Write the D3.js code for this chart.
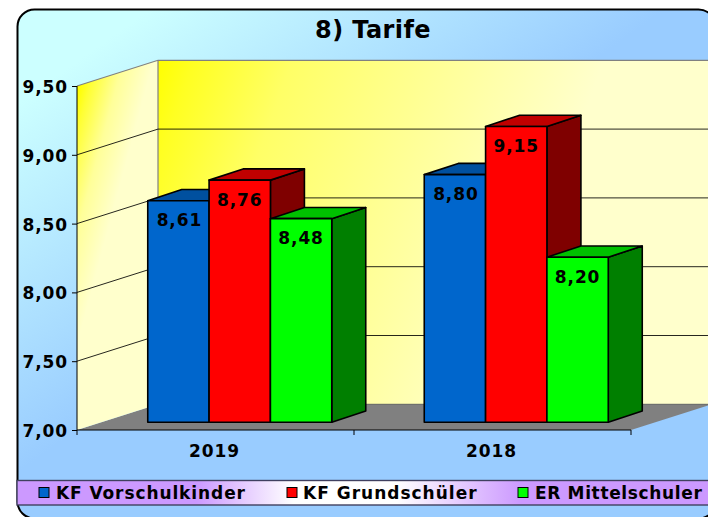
<!DOCTYPE html>
<html><head><meta charset="utf-8">
<script src="https://cdn.jsdelivr.net/npm/d3@7"></script>
<style>html,body{margin:0;padding:0;background:#fff}svg{display:block}text{font-family:"DejaVu Sans",Verdana,sans-serif;font-weight:700;fill:#000}</style>
</head><body><div id="c"></div>
<script>
const categories = ["2019", "2018"];
const seriesNames = ["KF Vorschulkinder", "KF Grundschüler", "ER Mittelschuler"];
const vorschulkinder = [8.61, 8.80];
const grundschueler = [8.76, 9.15];
const mittelschuler = [8.48, 8.20];
const tickValues = [7, 7.5, 8, 8.5, 9, 9.5];
const colors = [["#0066cc","#00509f","#0066cc"],["#ff0000","#c00000","#7f0000"],["#00ff00","#00c000","#007f00"]];

const W=708,H=517;
const svg=d3.select("#c").append("svg").attr("width",W).attr("height",H);
const defs=svg.append("defs");
function grad(id,x1,y1,x2,y2,stops){
  const g=defs.append("linearGradient").attr("id",id).attr("gradientUnits","userSpaceOnUse")
    .attr("x1",x1).attr("y1",y1).attr("x2",x2).attr("y2",y2);
  stops.forEach(s=>g.append("stop").attr("offset",s[0]).attr("stop-color",s[1]));
}
grad("bg",20,10,238,315,[[0,"#ccffff"],[0.2,"#ccffff"],[1,"#99ccff"]]);
grad("back",158,60,555,200,[[0,"#ffff00"],[0.08,"#ffff22"],[0.3,"#ffff66"],[0.65,"#ffff99"],[1,"#ffffcc"]]);
grad("side",77,95,140,112,[[0,"#ffff00"],[0.15,"#ffff33"],[0.55,"#ffff99"],[1,"#ffffcc"]]);
grad("leg",17,0,708,0,[[0,"#cc99ff"],[0.26,"#cc99ff"],[0.4,"#ffffff"],[0.55,"#ffffff"],[0.73,"#cc99ff"],[1,"#cc99ff"]]);

// frame
svg.append("rect").attr("x",17.5).attr("y",9.5).attr("width",698).attr("height",509).attr("rx",17)
  .attr("fill","url(#bg)").attr("stroke","#000").attr("stroke-width",2);

const y0=430,yTop=86;
const y=d3.scaleLinear().domain([7,9.5]).range([y0,yTop]);
const x=d3.scaleBand().domain(categories).range([77,631]);
const xBar=d3.scaleBand().domain(categories).range([77,630]);
const sub=d3.scaleBand().domain(d3.range(3)).range([0,184]);
const depthX=81,depthY=-25.7;
const floorOff=[24.5,-7.7];
const barD=[34,-11.2];
const line=d3.line();

// floor
svg.append("path").attr("d",line([[77,y0],[631,y0],[708,y0-24.5],[708,y0+depthY],[158,y0+depthY]])+"Z").attr("fill","#808080").attr("stroke","none");
// side and back walls
svg.append("path").attr("d",line([[77,y(9.5)],[77+depthX,y(9.5)+depthY],[77+depthX,y0+depthY],[77,y0]])+"Z").attr("fill","url(#side)");
svg.append("rect").attr("x",158).attr("y",y(9.5)+depthY).attr("width",W-158).attr("height",y0-y(9.5)).attr("fill","url(#back)");
svg.append("path").attr("d",line([[77,y(9.5)],[158,y(9.5)+depthY],[708,y(9.5)+depthY]])).attr("fill","none").attr("stroke","#808080").attr("stroke-width",1.2);
svg.append("line").attr("x1",158).attr("x2",158).attr("y1",y(9.5)+depthY).attr("y2",y0+depthY).attr("stroke","#808080").attr("stroke-width",1.2);
svg.append("line").attr("x1",158).attr("x2",708).attr("y1",y0+depthY).attr("y2",y0+depthY).attr("stroke","#606060");
// grid
tickValues.slice(1,5).forEach(t=>{
  svg.append("path").attr("d",line([[77,y(t)],[158,y(t)+depthY],[708,y(t)+depthY]])).attr("fill","none").attr("stroke","#000").attr("stroke-width",1).attr("stroke-opacity",.85);
});
// axes
const axisL=d3.axisLeft(y).tickValues(tickValues).tickSize(5).tickFormat(d=>d3.format(".2f")(d).replace(".",","));
const gL=svg.append("g").attr("transform","translate(77,0)").call(axisL);
gL.selectAll("text").attr("font-size",17).attr("x",-9).attr("dy",6.5).style("letter-spacing","0.9px");
gL.select(".domain").attr("d",`M0,${y0}V${yTop}`).attr("stroke","#000");
const axisB=d3.axisBottom(x).tickValues(categories).tickSize(0).tickFormat(d=>d);
const gB=svg.append("g").attr("transform",`translate(0,${y0})`).call(axisB);
gB.select(".domain").attr("d","M77,0H631").attr("stroke","#000");
gB.selectAll("text").attr("font-size",17).attr("dy",0).attr("y",27).attr("dx",-1).style("letter-spacing","0.9px");
[77,354,631].forEach(v=>gB.append("line").attr("x1",v).attr("x2",v).attr("y1",0).attr("y2",5).attr("stroke","#000"));

// bars
const series=[vorschulkinder,grundschueler,mittelschuler];
const base=422.3;
const yB=d3.scaleLinear().domain([7,9.5]).range([base,base-(y0-yTop)]);
categories.forEach((c,ci)=>{
  const left=xBar(c)+xBar.bandwidth()/2-92+floorOff[0];
  series.forEach((vals,si)=>{
    const v=vals[ci],x0=left+sub(si),w=sub.bandwidth(),t=yB(v);
    const [dx,dy]=barD;
    const g=svg.append("g").attr("stroke","#000").attr("stroke-width",1.6).attr("stroke-linejoin","round");
    g.append("path").attr("d",line([[x0+w,t],[x0+w+dx,t+dy],[x0+w+dx,base+dy],[x0+w,base]])+"Z").attr("fill",colors[si][2]);
    g.append("path").attr("d",line([[x0,t],[x0+dx,t+dy],[x0+w+dx,t+dy],[x0+w,t]])+"Z").attr("fill",colors[si][1]);
    g.append("rect").attr("x",x0).attr("y",t).attr("width",w).attr("height",base-t).attr("fill",colors[si][0]);
  });
});
// value labels
categories.forEach((c,ci)=>{
  const left=xBar(c)+xBar.bandwidth()/2-92+floorOff[0];
  series.forEach((vals,si)=>{
    svg.append("text").attr("x",left+sub(si)+sub.bandwidth()/2+(si==0?1:0)).attr("y",yB(vals[ci])+25.5).attr("text-anchor","middle")
      .attr("font-size",17).style("letter-spacing","0.9px").text(d3.format(".2f")(vals[ci]).replace(".",","));
  });
});
// title
svg.append("text").attr("x",373).attr("y",38).attr("text-anchor","middle").attr("font-size",24).style("letter-spacing","0.4px").text("8) Tarife");
// legend
svg.append("rect").attr("x",17).attr("y",480.5).attr("width",692).attr("height",24.5).attr("fill","url(#leg)").attr("stroke","#404060").attr("stroke-width",1.4);
const legX=[39,287,518],legT=[56,303,535],legLS=[0.9,1.0,0.65];
seriesNames.forEach((n,i)=>{
  svg.append("rect").attr("x",legX[i]).attr("y",487.5).attr("width",10).attr("height",10).attr("fill",colors[i][0]).attr("stroke","#000");
  svg.append("text").attr("x",legT[i]).attr("y",498.7).attr("font-size",17).style("letter-spacing",legLS[i]+"px").text(n);
});
</script></body></html>
